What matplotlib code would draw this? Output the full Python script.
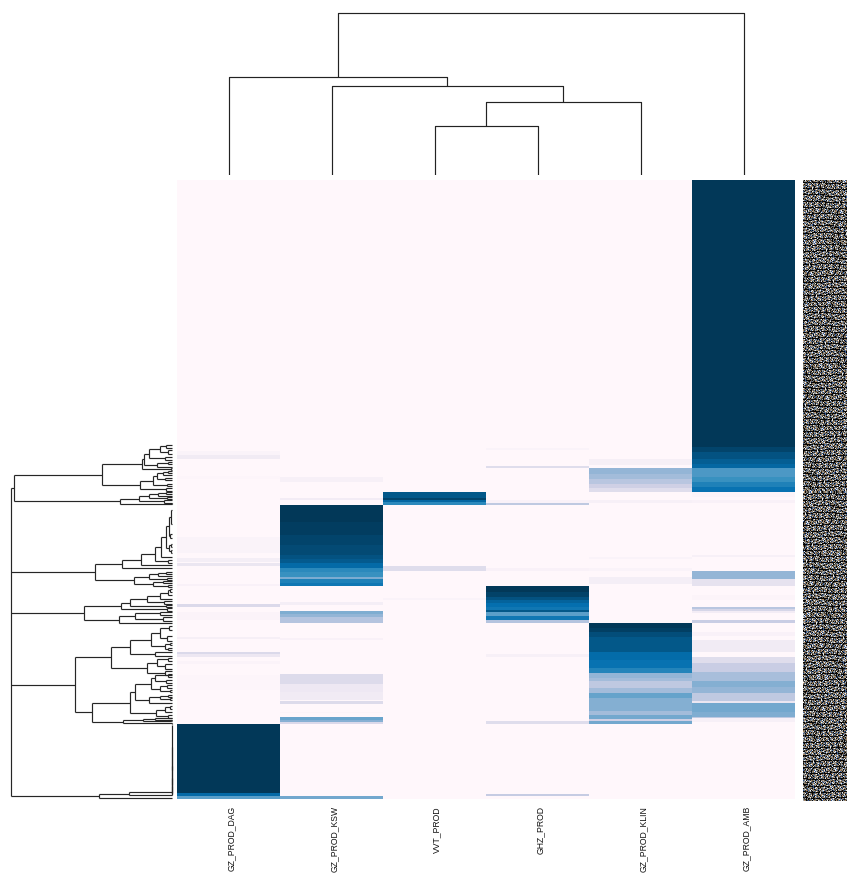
import numpy as np
import matplotlib
matplotlib.use("Agg")
import matplotlib.pyplot as plt
from matplotlib.collections import LineCollection
from matplotlib.colors import to_rgb
from matplotlib.transforms import ScaledTranslation

plt.rcParams['font.family'] = ['Liberation Sans', 'DejaVu Sans']

W, H = 847, 873
COLUMNS = ["GZ_PROD_DAG", "GZ_PROD_KSW", "VVT_PROD", "GHZ_PROD", "GZ_PROD_KLIN", "GZ_PROD_AMB"]
ROW_FIRST, ROW_LAST = 180, 799

# Bands of each column: (first row, end row, value 0..1). Everything else is 0.
BANDS_DAG = [(452,456,.03),(456,460,.09),(477,480,.012),(537,553,.03),(558,562,.07),(563,566,.13),
             (584,586,.04),(604,607,.20),(612,620,.025),(637,639,.06),(652,654,.20),(654,657,.12),
             (661,664,.025),(675,690,.012),(724,793,1.0),(793,796,.78),(796,799,.55)]
BANDS_KSW = [(478,483,.05),(498,500,.08),(505,522,1.0),(522,535,.98),(535,545,.95),(545,555,.93),
             (555,559,.90),(559,563,.87),(563,568,.78),(568,572,.65),(572,577,.62),(577,579,.48),
             (579,583,.68),(583,586,.72),(602,605,.07),(611,614,.47),(614,617,.42),(617,623,.33),
             (638,640,.04),(674,684,.19),(684,692,.11),(692,700,.09),(701,704,.19),(712,713,.02),
             (717,720,.52),(720,722,.45),(722,724,.20),(796,799,.50)]
BANDS_VVT = [(492,498,.88),(498,500,.95),(500,502,.80),(502,505,.65),(566,571,.18),(598,600,.03)]
BANDS_GHZ = [(449,451,.03),(467,469,.18),(500,503,.04),(503,505,.30),(568,571,.04),(586,592,1.0),
             (592,597,.96),(597,600,.90),(600,603,.82),(603,607,.75),(607,610,.72),(610,612,.88),
             (612,616,.55),(616,620,.72),(620,623,.33),(654,657,.05),(721,724,.18),(794,796,.28)]
BANDS_KLIN = [(460,466,.06),(469,475,.42),(475,480,.38),(480,485,.32),(485,489,.25),(489,492,.18),
              (500,503,.05),(557,559,.03),(568,571,.03),(577,584,.07),(623,628,1.0),(628,632,.97),
              (632,637,.92),(637,652,.88),(652,660,.77),(660,668,.74),(668,673,.67),(673,678,.42),
              (678,681,.38),(681,688,.30),(688,693,.38),(693,698,.53),(698,711,.46),(711,715,.38),
              (715,719,.50),(719,721,.25),(721,724,.50)]
BANDS_AMB = [(180,448,1.0),(448,453,.95),(453,460,.90),(460,465,.85),(465,469,.80),(469,478,.58),
             (478,483,.62),(483,488,.68),(488,492,.74),(492,497,.02),(500,503,.04),(555,557,.05),
             (571,579,.42),(579,586,.15),(595,600,.02),(607,609,.32),(609,611,.22),(611,613,.08),
             (620,623,.27),(632,636,.04),(640,652,.09),(657,663,.18),(663,672,.27),(672,681,.37),
             (681,687,.46),(687,693,.42),(693,701,.30),(701,703,.13),(703,712,.50),(712,717,.47),
             (717,718,.30),(718,722,.05)]
ALL_BANDS = [BANDS_DAG, BANDS_KSW, BANDS_VVT, BANDS_GHZ, BANDS_KLIN, BANDS_AMB]

# Column dendrogram merges: (left position, right position, distance)
COL_MERGES = [(2.5, 3.5, 49), (3.0, 4.5, 73), (1.5, 3.75, 89), (0.5, 2.625, 98), (1.5625, 5.5, 162)]

# Row dendrogram, as (distance, child, child, ...); plain numbers are leaf rows.
A1A = (30, (28, (23, (12, (6,445,448), (4,450,454)), (7,457,460)), (15, (4,462,464), 467)), (1,468,470))
A1B = (32, (19, (15, (9, (4,471,473), 475), (7,478,480)), (5,484,486)), (6,488,491))
A2 = (52, (33, (23, (14, (6,492,494), 496), (5,497,499)), (8,500,503)), (.5,503.5,504.5))
A = (158.5, (70, A1A, A1B), A2)
B1 = (50.3, (31, (16.7, (11, (6, (3.5, (1,510,524), (2,534,538)), (3, (1,544,547), (1.5,550,553))), 557),
                  (4,560,563)), 565), 568)
B2 = (38, (23, (14, (6,572,574), 576), (5,578,580)), (19, (9,581,583), (4,585,587)))
B = (77.5, B1, B2)
C1 = (51.3, (42.5, (25, (12, (4, (2,589,592), 595), 599), (8,601,604)), (6,605,607)), (5,608,611))
C2 = (53.5, (37, (12,612,615), (9,617,621)), 623)
C = (88, C1, C2)
D1A = (42.5, (21.3, (12, (3,626,630), (5,636,641)), (7, (2,643,645), (4,648,650))), (17,652,656))
D1B = (25.3, (15, (4,658,661), (7,664,669)), (7,671,675))
D2A1 = (37, (21, (17, (4,674,677), (6,680,683)), (12, (5,685,688), (2,690,692))),
        (23, (12, (4,695,697), (2,698,700)), 703))
D2A2 = (16, (7, (2,706,709), 712), (4,715,718))
D2B = (48.7, (29, (17,718,720), (1,720.5,721.5)), (.5,723,724))
D = (97.5, (61, D1A, D1B), (80.3, (42, D2A1, D2A2), D2B))
E = (73.5, (43.5, (.5, (.5, (.5, (.5, (.5, (.5,725,770), 785), 790), 793), 794), 794.5), 795), 798)
ROW_TREE = (161, A, B, C, D, E)

# Side strip: row colours, shown as a tile and its horizontal shifts
STRIP_KEYS = {'k':'#060606','w':'#eeeeee','g':'#84847c','t':'#b08a62','b':'#345a96',
              'd':'#363636','o':'#665644','l':'#a4acb4'}
STRIP_TILE = ["gkwdgotbkglwkdgtlkgodb",
              "dgltkgbwdkogtlgdkwbgok",
              "kkkkdkkkgkkkkkdkkkkgkk",
              "wgobdltgkwdgbltokgdwgl",
              "tkgldwobgkltdgwkbogdlg",
              "ogdkbglwtdkgogbdlkwtgd",
              "lbgwkodgtgbkdlwgoktbgk",
              "gdtkglbodwgkltgbdkogwd",
              "kkdkkkkkkwkkkkdkkkkkkk",
              "wltgdkbgolkdtwgbgkdlog",
              "dgkobtwlgdgkbodtglkwgb",
              "bkgltdgokwlbgtdkgowdlg",
              "glwdkgtbogdklgwbtkdogl",
              "okdgbwlgtkgdowlkbdgtgk",
              "kkkkkgkkkkdkkkkkbkkkkk",
              "tgwlodkgbtdgwklogbgdkt",
              "gbdkgtlowgkbdtglwokgdl",
              "ldgobkwgtdlgkowbtgdkgw",
              "kgtwdlbgkogtdlkwgbdogk",
              "dokglgtbwkdgoltbkdgwlg",
              "wgbdkoltgkwdgbklgotdgb",
              "kkkdkkkkkkkgkkkkkkdkkk",
              "gltkwdgobgtkldwgkobdtg",
              "bdgolkgtwdbkgltogdkwgl",
              "tkwgdbolgkdtwglbkgodgk",
              "ogldtkgbwlgdkotgbkwdlg",
              "kgbwodlgtkgbdwlogtkdgb",
              "kkkkkkdkkkkwkkkkkkkkdk",
              "lwdgtkbogldkgwtbogkldg",
              "gokdblgwtkgodlbwtgkdog",
              "dtglkwobgdtkglwbodkgtl"]
STRIP_SHIFTS = [0, 7, 3, 15, 11, 5, 19, 2, 13, 9]


def tree_segments(node, segs):
    """Return the row of a node; collect the elbow segments in distance/row space."""
    if not isinstance(node, tuple):
        return node, 0.0
    dist, *children = node
    placed = [tree_segments(c, segs) for c in children]
    rows = [p[0] for p in placed]
    for row, child_dist in placed:
        segs.append([(child_dist, row), (dist, row)])
    segs.append([(dist, min(rows)), (dist, max(rows))])
    return sum(rows) / len(rows), dist


def axes_px(left, top, right, bottom):
    return fig.add_axes([left / W, (H - bottom) / H, (right - left) / W, (bottom - top) / H])


fig = plt.figure(figsize=(W / 100, H / 100), dpi=100, facecolor='white')

# Heatmap
matrix = np.zeros((ROW_LAST - ROW_FIRST, len(COLUMNS)))
for j, bands in enumerate(ALL_BANDS):
    for first, end, value in bands:
        matrix[first - ROW_FIRST:end - ROW_FIRST, j] = value

ax = axes_px(177, 180, 795, 799)
ax.imshow(matrix, cmap='PuBu', vmin=0, vmax=1, aspect='auto', interpolation='nearest',
          extent=(0, len(COLUMNS), ROW_LAST, ROW_FIRST))
ax.set_yticks([])
ax.set_xticks(np.arange(len(COLUMNS)) + 0.5)
ax.set_xticklabels(COLUMNS, rotation=90, fontsize=6.2, color='#111111', va='top', ha='center')
ax.tick_params(axis='x', length=0, pad=5.2)
for s in ax.spines.values():
    s.set_visible(False)
shift = ScaledTranslation(2.5 / 100, 0, fig.dpi_scale_trans)
for lbl in ax.get_xticklabels():
    lbl.set_transform(lbl.get_transform() + shift)

# Column dendrogram
top = axes_px(177, 0, 795, 175)
top_segs = []
heights = {}
for left, right, dist in COL_MERGES:
    low_l, low_r = heights.get(left, 0), heights.get(right, 0)
    top_segs.append([(left, low_l), (left, dist), (right, dist), (right, low_r)])
    heights[(left + right) / 2] = dist
top.add_collection(LineCollection(top_segs, colors='#222222', linewidths=0.85))
top.set_xlim(0, len(COLUMNS))
top.set_ylim(0, 175)
top.axis('off')

# Row dendrogram
left_ax = axes_px(0, 180, 172, 799)
row_segs = []
tree_segments(ROW_TREE, row_segs)
left_ax.add_collection(LineCollection(row_segs, colors='#262626', linewidths=0.85, clip_on=False))
left_ax.set_xlim(172, 0)
left_ax.set_ylim(ROW_LAST, ROW_FIRST)
left_ax.axis('off')

# Side strip
keys = list(STRIP_KEYS)
rgb = np.array([to_rgb(STRIP_KEYS[k]) for k in keys])
tile = np.array([[keys.index(ch) for ch in row] for row in STRIP_TILE])
doubled = np.hstack([tile, np.roll(tile[::-1], 5, axis=1)])
period = np.vstack([doubled, np.roll(doubled[::-1, ::-1], 9, axis=1)])
strip = np.vstack([np.roll(period, s * 2, axis=1) for s in STRIP_SHIFTS])
side = axes_px(803, 180, 847, 801)
side.imshow(rgb[strip], aspect='auto', interpolation='nearest')
side.axis('off')

fig.savefig('out.png', dpi=100, facecolor='white')
